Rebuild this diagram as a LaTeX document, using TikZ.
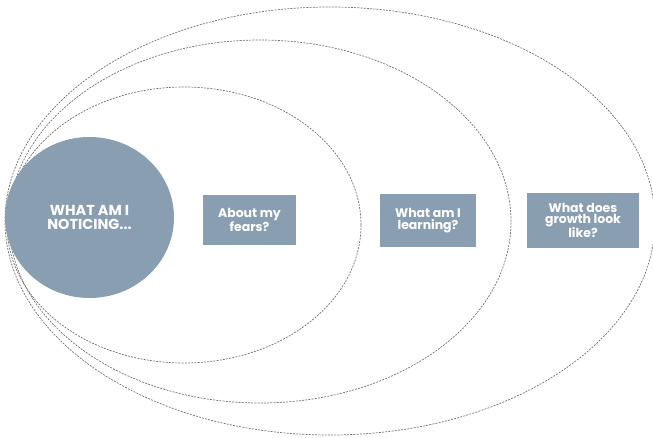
\documentclass[tikz,border=0pt]{standalone}
\usepackage{fontspec}
\setmainfont{Poppins}
\usetikzlibrary{shapes.geometric}
\definecolor{slate}{HTML}{8A9EB1}
\definecolor{dashgray}{HTML}{707070}
\tikzset{
  ring/.style={ellipse, draw=dashgray, line width=0.7pt, dash pattern=on 2pt off 1.2pt, inner sep=0pt},
  bigdisc/.style={ellipse, fill=slate, inner sep=0pt, text=white, align=center,
    font=\fontsize{14.5}{13.5}\selectfont\bfseries},
  qbox/.style={rectangle, fill=slate, inner sep=0pt, text=white, align=center,
    font=\fontsize{12.5}{11.5}\selectfont\bfseries}
}
\begin{document}
\begin{tikzpicture}[x=1bp,y=-1bp]
\useasboundingbox (0,0) rectangle (653,438);
\node[ring, minimum width=650bp, minimum height=428bp] (outer) at (330,221) {};
\node[ring, minimum width=502bp, minimum height=363bp] (middle) at (260,221.5) {};
\node[ring, minimum width=354bp, minimum height=276bp] (inner) at (184,225) {};
\node[bigdisc, minimum width=169bp, minimum height=161bp] (notice) at (89.5,217.5) {WHAT AM I\\NOTICING...};
\node[qbox, minimum width=93bp, minimum height=50bp] (fears) at (249.5,220) {About my\\fears?};
\node[qbox, minimum width=96bp, minimum height=53bp] (learn) at (428,220.5) {What am I\\learning?};
\node[qbox, minimum width=112bp, minimum height=55bp] (growth) at (583,220.5) {What does\\growth look\\like?};
\end{tikzpicture}
\end{document}
